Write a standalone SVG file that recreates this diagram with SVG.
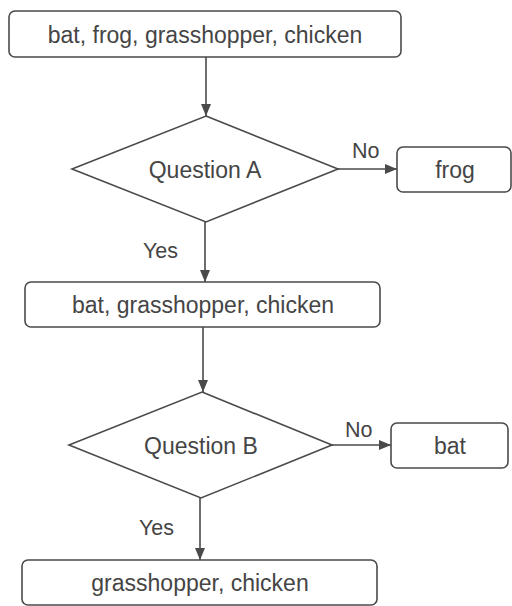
<svg xmlns="http://www.w3.org/2000/svg" width="512" height="606" viewBox="0 0 512 606">
<style>
.box{fill:#fff;stroke:#4a4a4a;stroke-width:1.6}
.ln{fill:none;stroke:#4a4a4a;stroke-width:1.6}
.t{font-family:"Liberation Sans",Arial,sans-serif;font-size:23px;fill:#454545;text-anchor:middle}
.l{font-family:"Liberation Sans",Arial,sans-serif;font-size:21.5px;fill:#454545}
</style>
<defs>
<marker id="ah" markerWidth="12" markerHeight="10" refX="12" refY="5" orient="auto" markerUnits="userSpaceOnUse">
<path d="M0,0 L12,5 L0,10 Z" fill="#4a4a4a"/>
</marker>
</defs>
<rect width="512" height="606" fill="#fff"/>
<g id="connectors">
<line class="ln" x1="206" y1="57" x2="206" y2="116" marker-end="url(#ah)"/>
<line class="ln" x1="338" y1="169" x2="397" y2="169" marker-end="url(#ah)"/>
<line class="ln" x1="205" y1="222" x2="205" y2="282" marker-end="url(#ah)"/>
<line class="ln" x1="203" y1="327" x2="203" y2="392" marker-end="url(#ah)"/>
<line class="ln" x1="332" y1="445" x2="391" y2="445" marker-end="url(#ah)"/>
<line class="ln" x1="200" y1="498" x2="200" y2="560" marker-end="url(#ah)"/>
<text class="l" x="352" y="158">No</text>
<text class="l" x="143" y="258">Yes</text>
<text class="l" x="345" y="437">No</text>
<text class="l" x="139" y="535">Yes</text>
</g>
<g id="n1">
<rect class="box" x="9" y="11" width="392" height="46" rx="6"/>
<text class="t" x="205" y="43">bat, frog, grasshopper, chicken</text>
</g>
<g id="qa">
<polygon class="box" points="206,116 338,169 206,222 72,169"/>
<text class="t" x="205" y="178">Question A</text>
</g>
<g id="frog">
<rect class="box" x="397" y="147" width="114" height="45" rx="6"/>
<text class="t" x="455" y="178">frog</text>
</g>
<g id="n2">
<rect class="box" x="25" y="282" width="355" height="45" rx="6"/>
<text class="t" x="203" y="313">bat, grasshopper, chicken</text>
</g>
<g id="qb">
<polygon class="box" points="202,392 332,445 201,498 69,445"/>
<text class="t" x="201" y="454">Question B</text>
</g>
<g id="bat">
<rect class="box" x="391" y="423" width="117" height="45" rx="6"/>
<text class="t" x="450" y="454">bat</text>
</g>
<g id="n3">
<rect class="box" x="22" y="560" width="355" height="45" rx="6"/>
<text class="t" x="200" y="591">grasshopper, chicken</text>
</g>
</svg>
